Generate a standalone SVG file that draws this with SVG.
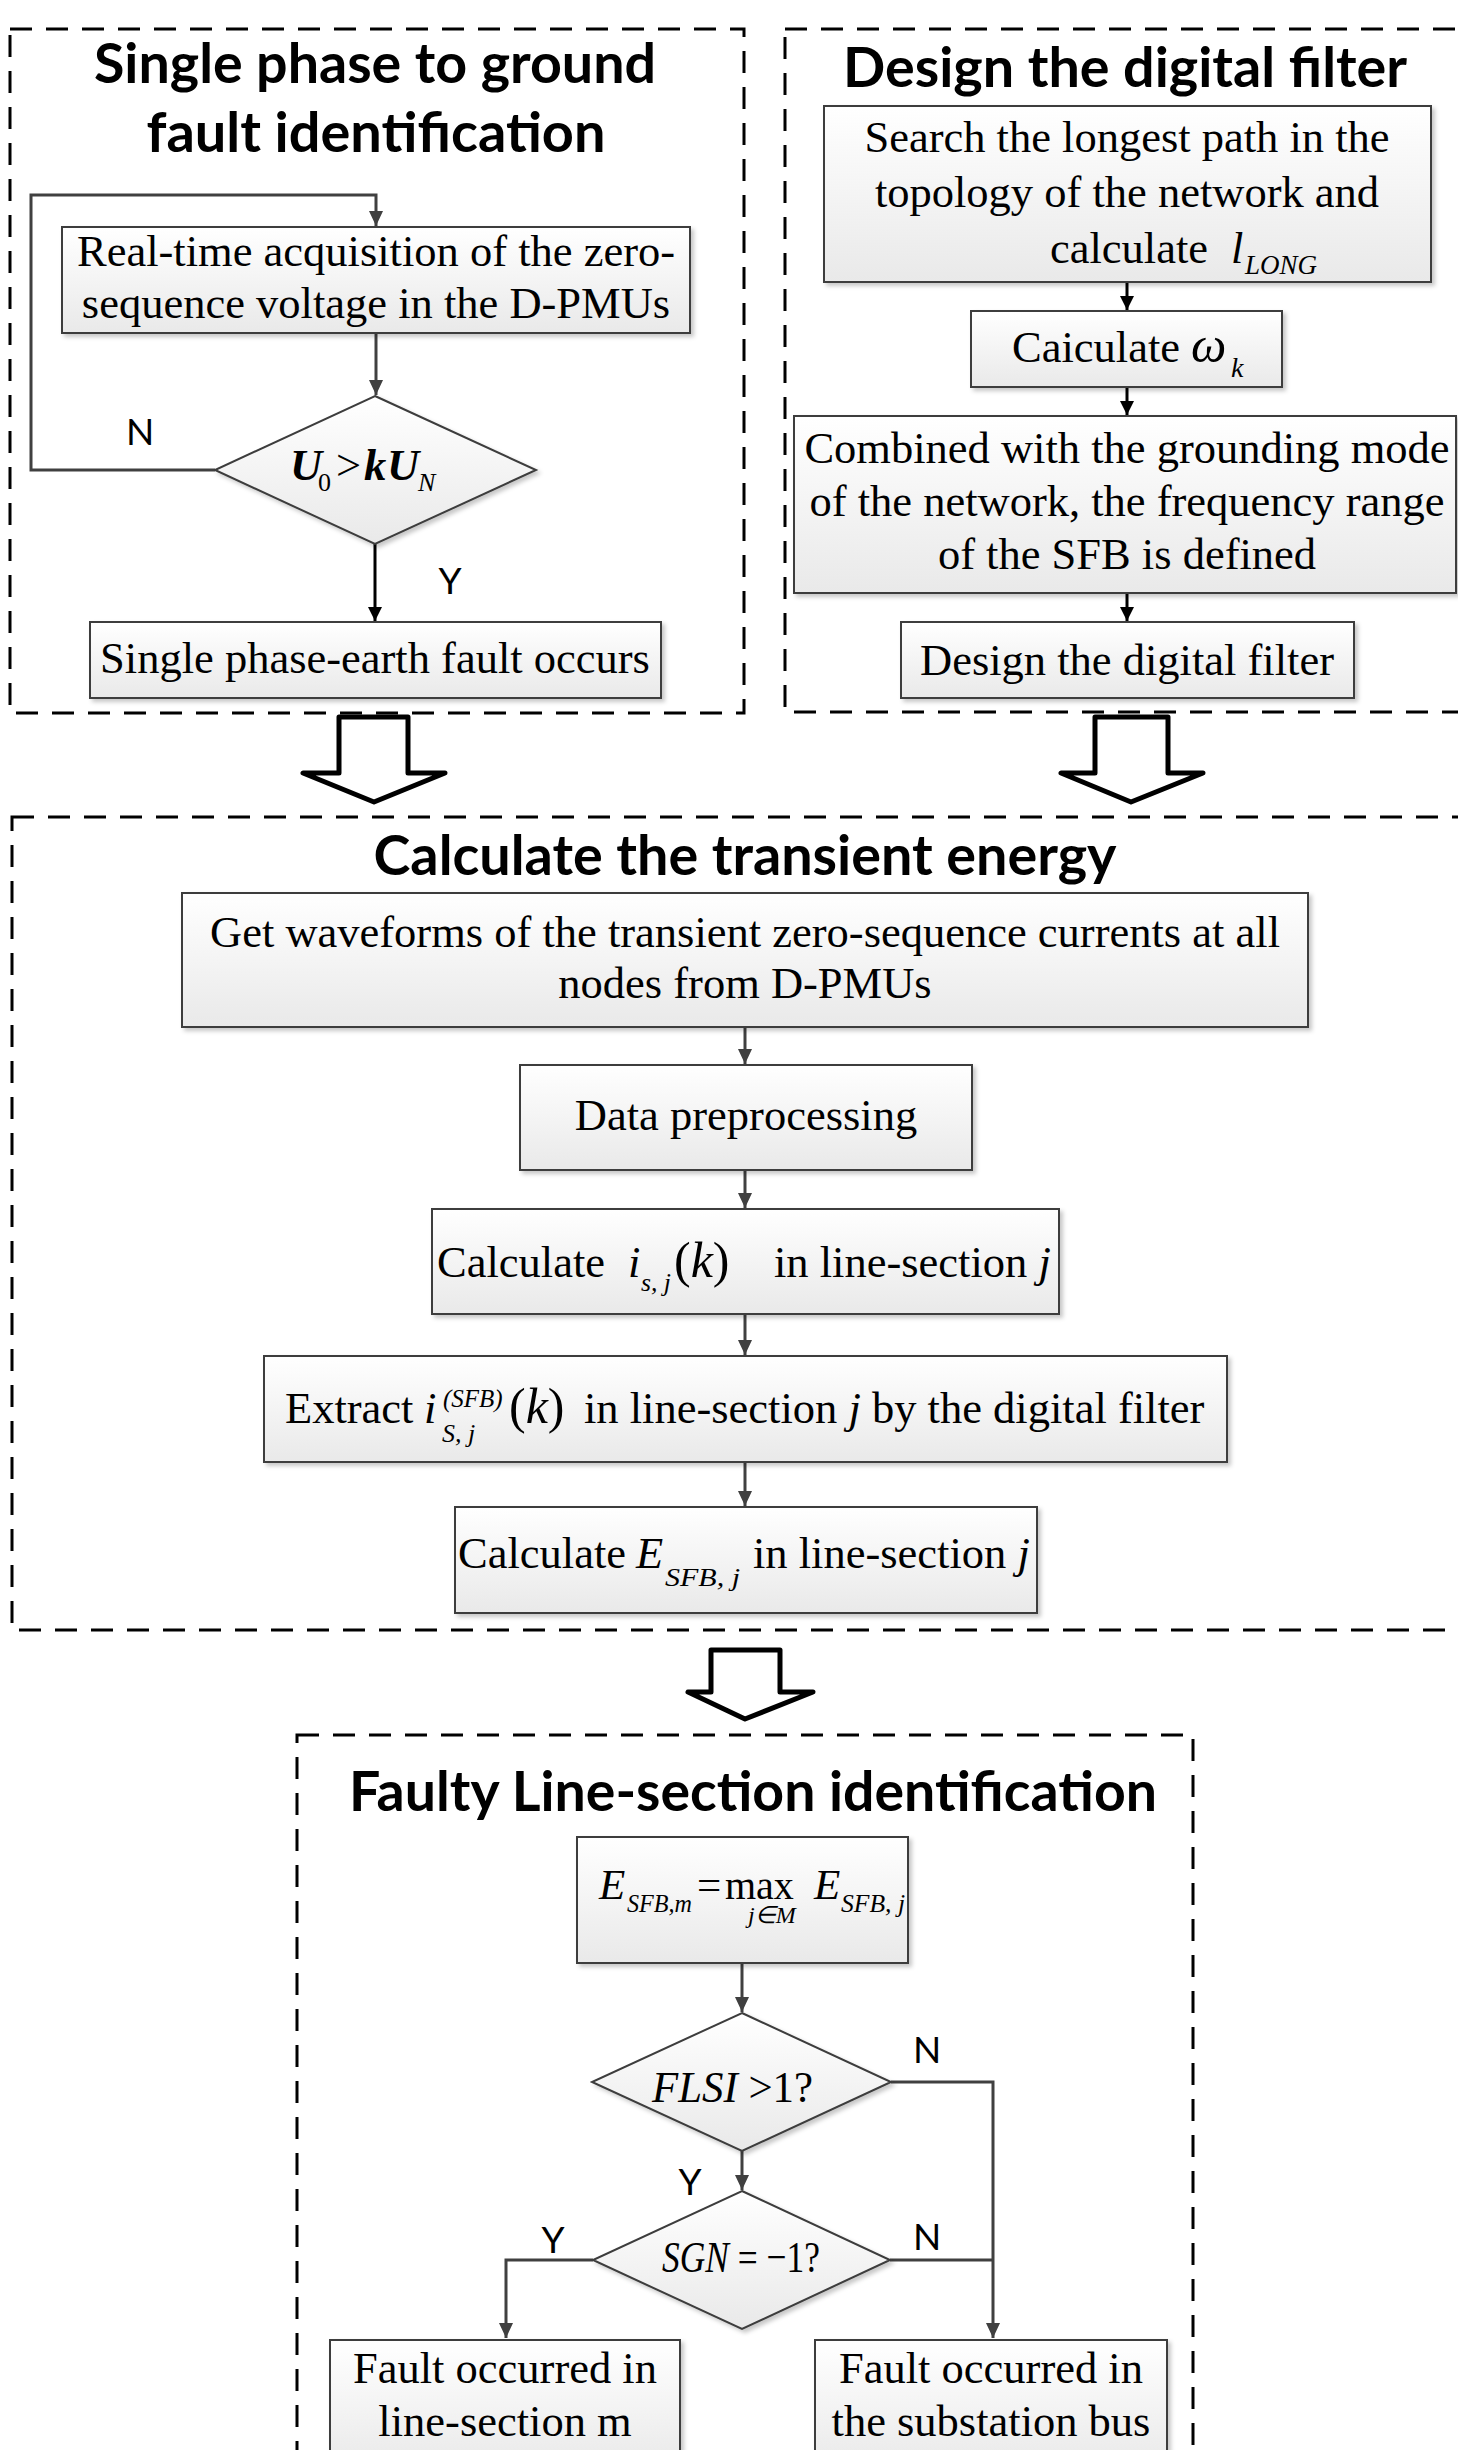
<svg xmlns="http://www.w3.org/2000/svg" width="1458" height="2450" viewBox="0 0 1458 2450">
<defs>
  <linearGradient id="gf" x1="0" y1="0" x2="0" y2="1">
    <stop offset="0" stop-color="#ffffff"/>
    <stop offset="1" stop-color="#e9e9e9"/>
  </linearGradient>
  <filter id="sh" x="-5%" y="-5%" width="115%" height="125%">
    <feDropShadow dx="3" dy="3" stdDeviation="2" flood-color="#000" flood-opacity="0.22"/>
  </filter>
  <marker id="ah" markerUnits="userSpaceOnUse" markerWidth="16" markerHeight="16" refX="15" refY="7" orient="auto">
    <path d="M0,0 L15,7 L0,14 z" fill="#404040"/>
  </marker>
  <marker id="ahb" markerUnits="userSpaceOnUse" markerWidth="16" markerHeight="16" refX="14" refY="7" orient="auto">
    <path d="M0,0 L14,7 L0,14 z" fill="#000"/>
  </marker>
  <style>
    .dash{fill:none;stroke:#000;stroke-width:3;stroke-dasharray:22 14}
    .box{fill:url(#gf);stroke:#3c3c3c;stroke-width:2;filter:url(#sh)}
    .title{font-family:Lato,"Open Sans","Liberation Sans",sans-serif;font-weight:700;font-size:56px;fill:#000;text-anchor:middle}
    .t{font-family:"Liberation Serif","Times New Roman",serif;font-size:44.5px;fill:#000}
    .c{text-anchor:middle}
    .i{font-style:italic}
    .sub{font-size:26px}
    .sup{font-size:25px}
    .big{font-size:50px}
    .f43{font-size:43px}
    .lbl{font-family:Lato,"Liberation Sans",sans-serif;font-size:37px;fill:#000;text-anchor:middle}
    .con{fill:none;stroke:#404040;stroke-width:3}
    .conb{fill:none;stroke:#000;stroke-width:3}
    .blk{fill:#fff;stroke:#000;stroke-width:5;stroke-linejoin:round}
  </style>
</defs>
<rect width="1458" height="2450" fill="#fff"/>

<g id="frames">
  <rect class="dash" x="10" y="29" width="734" height="684"/>
  <rect class="dash" x="785" y="29" width="700" height="683"/>
  <rect class="dash" x="12" y="817" width="1480" height="813"/>
  <rect class="dash" x="297" y="1735" width="896" height="800"/>
</g>

<g id="titles">
  <text class="title" x="375" y="83" textLength="562" lengthAdjust="spacingAndGlyphs">Single phase to ground</text>
  <text class="title" x="376" y="152" textLength="459" lengthAdjust="spacingAndGlyphs">fault identification</text>
  <text class="title" x="1125" y="87" textLength="564" lengthAdjust="spacingAndGlyphs">Design the digital filter</text>
  <text class="title" x="745" y="875" textLength="743" lengthAdjust="spacingAndGlyphs">Calculate the transient energy</text>
  <text class="title" x="753" y="1811" textLength="808" lengthAdjust="spacingAndGlyphs">Faulty Line-section identification</text>
</g>

<g id="connectors">
  <path class="con" d="M215,470 H31 V195 H376 V226" marker-end="url(#ah)"/>
  <path class="con" d="M376,333 V395" marker-end="url(#ah)"/>
  <path class="conb" d="M375,544 V621" marker-end="url(#ahb)"/>
  <path class="conb" d="M1127,282 V310" marker-end="url(#ahb)"/>
  <path class="conb" d="M1127,387 V415" marker-end="url(#ahb)"/>
  <path class="conb" d="M1127,593 V621" marker-end="url(#ahb)"/>
  <path class="con" d="M745,1027 V1064" marker-end="url(#ah)"/>
  <path class="con" d="M745,1170 V1208" marker-end="url(#ah)"/>
  <path class="con" d="M745,1314 V1355" marker-end="url(#ah)"/>
  <path class="con" d="M745,1462 V1506" marker-end="url(#ah)"/>
  <path class="con" d="M742,1963 V2012" marker-end="url(#ah)"/>
  <path class="con" d="M742,2151 V2190" marker-end="url(#ah)"/>
  <path class="con" d="M891,2082 H993 V2338" marker-end="url(#ah)"/>
  <path class="con" d="M890,2260 H993"/>
  <path class="con" d="M593,2260 H506 V2338" marker-end="url(#ah)"/>
  <polygon class="blk" points="339,717 408,717 408,773 445,773 374,802 303,773 339,773"/>
  <polygon class="blk" points="1095,717 1168,717 1168,773 1203,773 1131,802 1061,773 1095,773"/>
  <polygon class="blk" points="711,1650 780,1650 780,1692 813,1692 745,1719 688,1692 711,1692"/>
  <text class="lbl" x="140" y="445">N</text>
  <text class="lbl" x="450" y="594">Y</text>
  <text class="lbl" x="927" y="2063">N</text>
  <text class="lbl" x="690" y="2195">Y</text>
  <text class="lbl" x="553" y="2253">Y</text>
  <text class="lbl" x="927" y="2250">N</text>
</g>

<g id="n-acq">
  <rect class="box" x="62" y="227" width="628" height="106"/>
  <text class="t c" x="376" y="266">Real-time acquisition of the zero-</text>
  <text class="t c" x="376" y="318">sequence voltage in the D-PMUs</text>
</g>
<g id="n-cond1">
  <polygon class="box" points="375,396 536,470 375,544 215,470"/>
  <text class="t i" y="480"><tspan x="290" style="font-weight:700">U</tspan><tspan x="318" y="491" style="font-size:26px;font-style:normal">0</tspan><tspan x="336" y="480" style="font-style:normal">&gt;</tspan><tspan x="364" style="font-weight:700">k</tspan><tspan x="387" style="font-weight:700">U</tspan><tspan x="418" y="491" style="font-size:26px">N</tspan></text>
</g>
<g id="n-fault">
  <rect class="box" x="90" y="622" width="571" height="76"/>
  <text class="t c" x="375" y="673">Single phase-earth fault occurs</text>
</g>

<g id="n-search">
  <rect class="box" x="824" y="106" width="607" height="176"/>
  <text class="t c" x="1127" y="152">Search the longest path in the</text>
  <text class="t c" x="1127" y="207">topology of the network and</text>
  <text class="t" x="1050" y="263">calculate</text>
  <text class="t i" x="1231" y="263">l</text>
  <text class="t i" x="1245" y="274" style="font-size:27px">LONG</text>
</g>
<g id="n-omega">
  <rect class="box" x="971" y="311" width="311" height="76"/>
  <text class="t" x="1012" y="362">Caiculate</text>
  <text class="t i big" x="1191" y="362">ω</text>
  <text class="t i" x="1231" y="377" style="font-size:28px">k</text>
</g>
<g id="n-combined">
  <rect class="box" x="794" y="416" width="662" height="177"/>
  <text class="t c" x="1127" y="463">Combined with the grounding mode</text>
  <text class="t c" x="1127" y="516">of the network, the frequency range</text>
  <text class="t c" x="1127" y="569">of the SFB is defined</text>
</g>
<g id="n-design">
  <rect class="box" x="901" y="622" width="453" height="76"/>
  <text class="t c" x="1127" y="675">Design the digital filter</text>
</g>

<g id="n-get">
  <rect class="box" x="182" y="893" width="1126" height="134"/>
  <text class="t c" x="745" y="947">Get waveforms of the transient zero-sequence currents at all</text>
  <text class="t c" x="745" y="998">nodes from D-PMUs</text>
</g>
<g id="n-pre">
  <rect class="box" x="520" y="1065" width="452" height="105"/>
  <text class="t c" x="746" y="1130">Data preprocessing</text>
</g>
<g id="n-calci">
  <rect class="box" x="432" y="1209" width="627" height="105"/>
  <text class="t" x="437" y="1277">Calculate</text>
  <text class="t i" x="628" y="1277">i</text>
  <text class="t i sub" x="641" y="1291" textLength="30" lengthAdjust="spacingAndGlyphs">s, j</text>
  <text class="t big" x="674" y="1277">(<tspan style="font-style:italic">k</tspan>)</text>
  <text class="t" x="774" y="1277">in line-section <tspan style="font-style:italic">j</tspan></text>
</g>
<g id="n-extract">
  <rect class="box" x="264" y="1356" width="963" height="106"/>
  <text class="t" x="285" y="1423">Extract</text>
  <text class="t i" x="424" y="1423">i</text>
  <text class="t i sup" x="443" y="1407">(SFB)</text>
  <text class="t i sub" x="442" y="1442">S, j</text>
  <text class="t big" x="509" y="1423">(<tspan style="font-style:italic">k</tspan>)</text>
  <text class="t" x="584" y="1423">in line-section <tspan style="font-style:italic">j</tspan> by the digital filter</text>
</g>
<g id="n-calce">
  <rect class="box" x="455" y="1507" width="582" height="106"/>
  <text class="t" x="458" y="1568">Calculate</text>
  <text class="t i" x="636" y="1568">E</text>
  <text class="t i sub" x="665" y="1586" textLength="75" lengthAdjust="spacingAndGlyphs">SFB, j</text>
  <text class="t" x="753" y="1568">in line-section <tspan style="font-style:italic">j</tspan></text>
</g>

<g id="n-max">
  <rect class="box" x="577" y="1837" width="331" height="126"/>
  <text class="t i f43" x="599" y="1899">E</text>
  <text class="t i sub" x="627" y="1912" textLength="65" lengthAdjust="spacingAndGlyphs">SFB,m</text>
  <text class="t f43" x="697" y="1899">=</text>
  <text class="t" x="725" y="1899" style="font-size:40px">max</text>
  <text class="t i" x="748" y="1923" style="font-size:24px">j∈M</text>
  <text class="t i f43" x="814" y="1899">E</text>
  <text class="t i sub" x="841" y="1912" textLength="64" lengthAdjust="spacingAndGlyphs">SFB, j</text>
</g>
<g id="n-flsi">
  <polygon class="box" points="742,2013 891,2082 742,2151 592,2082"/>
  <text class="t" x="652" y="2102" textLength="161" lengthAdjust="spacingAndGlyphs"><tspan style="font-style:italic">FLSI</tspan> &gt;1?</text>
</g>
<g id="n-sgn">
  <polygon class="box" points="742,2191 890,2260 742,2329 593,2260"/>
  <text class="t" x="662" y="2272" textLength="158" lengthAdjust="spacingAndGlyphs"><tspan style="font-style:italic">SGN</tspan> = −1?</text>
</g>
<g id="n-linem">
  <rect class="box" x="330" y="2340" width="350" height="130"/>
  <text class="t c" x="505" y="2383">Fault occurred in</text>
  <text class="t c" x="505" y="2436">line-section m</text>
</g>
<g id="n-bus">
  <rect class="box" x="815" y="2340" width="352" height="130"/>
  <text class="t c" x="991" y="2383">Fault occurred in</text>
  <text class="t c" x="991" y="2436">the substation bus</text>
</g>
</svg>
